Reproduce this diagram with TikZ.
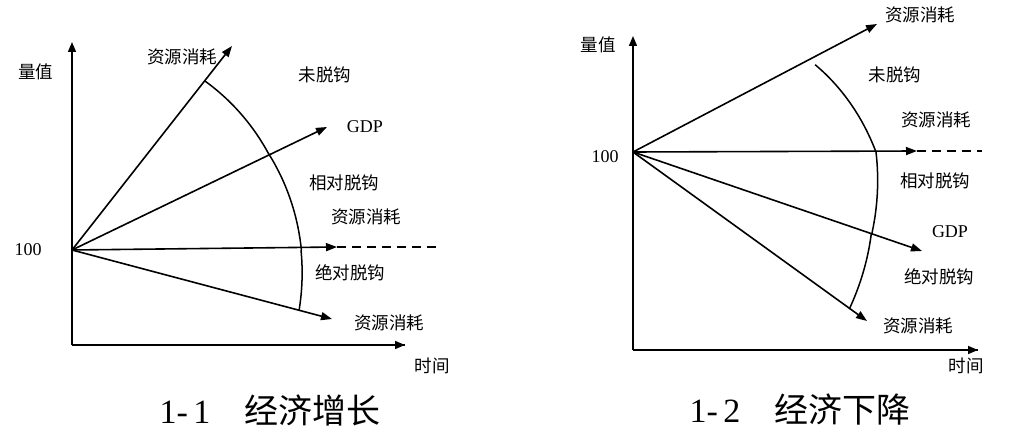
\documentclass[tikz,border=0pt]{standalone}
\usepackage{fontspec}
\setmainfont{Liberation Serif}
\newfontfamily\cjk{Noto Sans CJK SC}
\usetikzlibrary{arrows.meta}
\begin{document}
\begin{tikzpicture}[x=1pt,y=-1pt,
  ax/.style={line width=1.6pt,-{Triangle[length=10pt,width=8pt]}},
  ray/.style={line width=1.6pt,-{Triangle[length=11pt,width=8pt]}},
  lab/.style={font=\cjk\fontsize{17.5}{17.5}\selectfont,inner sep=1pt},
  num/.style={font=\fontsize{18}{18}\selectfont,inner sep=1pt},
  ttl/.style={font=\fontsize{34}{34}\selectfont,inner sep=1pt},
  sp/.style={line width=1.5pt}]
\useasboundingbox (0,0) rectangle (1013,438);
% ---------- left
\coordinate (O1) at (72,250);
\coordinate (Y1) at (72,42);
\coordinate (C1) at (72,345);
\coordinate (X1) at (405,345);
\draw[ax] (C1) -- (Y1);
\draw[line width=1.6pt] (C1) -- (X1);
\draw[ax] (395,345) -- (X1);
\coordinate (A1) at (232,46);
\coordinate (G1) at (327,127);
\coordinate (H1) at (337,247);
\coordinate (D1) at (440,247);
\coordinate (L1) at (332,319);
\draw[ray] (O1) -- (A1);
\draw[ray] (O1) -- (G1);
\draw[ray] (O1) -- (H1);
\draw[line width=1.6pt,dashed,dash pattern=on 9pt off 6pt] (H1) -- (D1);
\draw[ray] (O1) -- (L1);
\draw[sp] plot[domain=52:26,samples=30,smooth] ({72+(215+(52-\x)*0.15)*cos(\x)},{250-(215+(52-\x)*0.15)*sin(\x)});
\draw[sp] plot[domain=26:0,samples=30,smooth] ({72+(219+(26-\x)*0.4)*cos(\x)},{250-(219+(26-\x)*0.4)*sin(\x)});
\draw[sp] plot[domain=0:-15,samples=30,smooth] ({72+(229+(-\x)*0.4)*cos(\x)},{250-(229+(-\x)*0.4)*sin(\x)});
\node[lab] (t1) at (182,57) {资源消耗};
\node[lab] (t2) at (325,75) {未脱钩};
\node[num] (t3) at (365,127) {GDP};
\node[lab] (t4) at (344,183) {相对脱钩};
\node[lab] (t5) at (366,217) {资源消耗};
\node[lab] (t6) at (350,273) {绝对脱钩};
\node[lab] (t7) at (389,323) {资源消耗};
\node[lab] (t8) at (36,72) {量值};
\node[num] (t9) at (28,250) {100};
\node[lab] (t10) at (432,366) {时间};
\node[ttl] (T1) at (270,410) {1-\,1\quad{\cjk 经济增长}};
% ---------- right
\coordinate (O2) at (633,152);
\coordinate (Y2) at (633,36);
\coordinate (C2) at (633,350);
\coordinate (X2) at (978,350);
\draw[ax] (C2) -- (Y2);
\draw[line width=1.6pt] (C2) -- (X2);
\draw[ax] (968,350) -- (X2);
\coordinate (A2) at (877,24);
\coordinate (H2) at (917,151);
\coordinate (D2) at (982,151);
\coordinate (G2) at (922,251);
\coordinate (L2) at (867,321);
\draw[ray] (O2) -- (A2);
\draw[ray] (O2) -- (H2);
\draw[line width=1.6pt,dashed,dash pattern=on 9pt off 6pt] (H2) -- (D2);
\draw[ray] (O2) -- (G2);
\draw[ray] (O2) -- (L2);
\draw[sp] plot[domain=25.6:0,samples=30,smooth] ({633+(202+(25.6-\x)*1.6)*cos(\x)},{152-(202+(25.6-\x)*1.6)*sin(\x)});
\draw[sp] plot[domain=0:-19,samples=30,smooth] ({633+(243+(-\x)*0.5)*cos(\x)},{152-(243+(-\x)*0.5)*sin(\x)});
\draw[sp] plot[domain=-19:-36,samples=30,smooth] ({633+(252+(-19-\x)*0.9)*cos(\x)},{152-(252+(-19-\x)*0.9)*sin(\x)});
\node[lab] (u1) at (920,15) {资源消耗};
\node[lab] (u2) at (895,75) {未脱钩};
\node[lab] (u3) at (936,120) {资源消耗};
\node[lab] (u4) at (935,181) {相对脱钩};
\node[num] (u5) at (950,232) {GDP};
\node[lab] (u6) at (939,277) {绝对脱钩};
\node[lab] (u7) at (918,326) {资源消耗};
\node[lab] (u8) at (598,45) {量值};
\node[num] (u9) at (605,157) {100};
\node[lab] (u10) at (966,366) {时间};
\node[ttl] (T2) at (800,410) {1-\,2\quad{\cjk 经济下降}};
\end{tikzpicture}
\end{document}
